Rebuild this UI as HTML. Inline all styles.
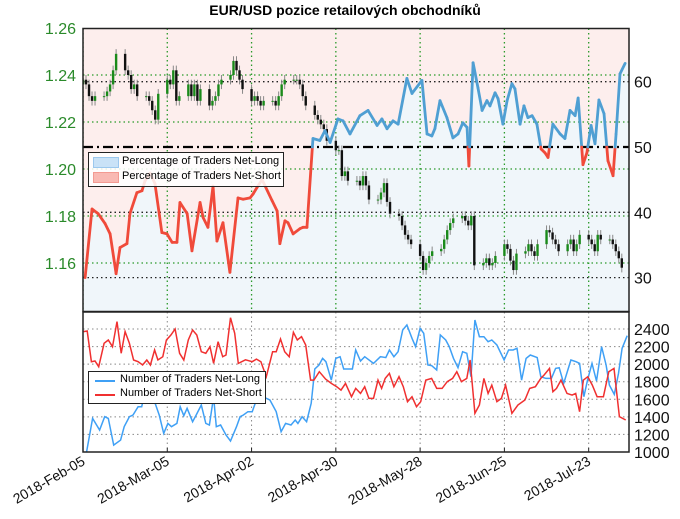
<!DOCTYPE html>
<html><head><meta charset="utf-8">
<style>
body{margin:0;background:#fff;position:relative;}
svg{display:block;font-family:"Liberation Sans","DejaVu Sans",sans-serif;}
</style></head>
<body>
<svg id="chart" width="680" height="519" viewBox="0 0 680 519" xmlns="http://www.w3.org/2000/svg">
<text x="345" y="15" text-anchor="middle" font-weight="bold" font-size="14">EUR/USD pozice retailových obchodníků</text>
<g id="topg"></g>
<g id="botg"></g>
</svg>
<script>
// ---------- data ----------
const dateLabels = ["2018-Feb-05","2018-Mar-05","2018-Apr-02","2018-Apr-30","2018-May-28","2018-Jun-25","2018-Jul-23"];
const dateTickDays = [0,28,56,84,112,140,168];
const priceTicks = [1.16,1.18,1.20,1.22,1.24,1.26];
const pctTicks = [30,40,50,60];
const countTicks = [1000,1200,1400,1600,1800,2000,2200,2400];
const closes = [
1.238,1.236,1.231,1.229,1.231, 1.231,1.233,1.236,1.242,1.249, 1.242,1.240,1.234,1.236,1.231,
1.231,1.229,1.225,1.221,1.232, 1.238,1.236,1.242,1.229,1.231, 1.236,1.231,1.236,1.229,1.234,
1.227,1.229,1.231,1.236,1.238, 1.240,1.246,1.242,1.238,1.234, 1.229,1.231,1.229,1.227,1.229,
1.229,1.227,1.231,1.236,1.238, 1.238,1.238,1.236,1.231,1.227, 1.223,1.221,1.219,1.217,1.212,
1.208,1.208,1.197,1.199,1.195, 1.195,1.193,1.197,1.193,1.187, 1.187,1.190,1.194,1.186,1.181,
1.180,1.176,1.172,1.170,1.168, 1.163,1.157,1.160,1.163,1.165, 1.166,1.170,1.174,1.177,1.179,
1.180,1.178,1.176,1.180,1.159, 1.160,1.162,1.159,1.160,1.163, 1.168,1.166,1.161,1.157,1.164,
1.165,1.168,1.165,1.163,1.168, 1.174,1.173,1.170,1.168,1.165, 1.168,1.170,1.165,1.168,1.172,
1.170,1.168,1.165,1.172,1.170, 1.170,1.168,1.165,1.162,1.158];
const pctDays = [0.7,3,5,7.3,9,11,12.3,14.6,15.6,17.9,19.6,20.6,22.3,23.9,26.2,27.9,29.6,31.2,32.2,34.6,36.2,38.9,39.9,41.5,43.2,44.5,46.5,48.8,51.5,53.2,55.5,56.5,57.8,59.5,62.8,64.5,65.4,67.1,68.1,69.8,72.1,73.1,74.4,76.4,78.7,80.4,82.1,84.7,86.4,88.7,92,94.7,97.7,99.3,101,103,104.7,107.6,109.3,112.6,114.3,115.9,116.9,118.6,120.9,122.9,124.6,126.2,127.6,128.2,129.6,131.2,132.6,134.2,135.2,136.9,137.9,139.5,140.9,142.5,143.5,145.2,146.5,147.8,149.2,150.8,152.2,153.5,154.5,156.1,158.5,160.1,161.8,163.5,164.5,166.1,167.4,168.8,170.1,171.4,173.1,174.4,176.1,177.1,178.4,180.1];
const pctLong = [30,40.5,39.8,38.3,36.7,30.6,34.6,35.2,39.8,43,43.3,44.8,46,44.4,36.9,36.7,35.4,35.4,41.5,39.8,34.1,41.5,39.2,37.7,44,35.6,38.4,30.8,42.2,42,42.2,42.8,43.8,45,41.8,40.2,35.2,38.7,38.4,36.7,37.5,37.7,37.7,51.3,51,52.5,50.7,54.3,54,52,54.8,55.6,53.3,54.3,52.8,54,53.5,60.5,58.2,60.2,52,51.7,52.8,57.1,54.5,51.4,52,53.7,53,47.1,62.9,59.1,55.6,57.1,56.3,58.3,57.4,53.5,57.1,59.7,58.9,53.5,56.3,54.5,54.8,53.5,49.7,49.1,48.4,53.5,52,51.3,55.6,54.8,57.5,47.3,49.1,53.3,50.5,57.2,55.1,47.9,45.6,52,61.2,62.8];
const longDays = [1.2,3.2,5.5,7.2,8.4,10.2,12.5,13.7,15.4,16.6,18.3,19.5,20.7,23,25.3,26.8,28.2,29.4,31.2,32.3,33.5,34.6,36.4,37.6,39.3,40.8,42,43.4,44.3,45.7,47.5,49,51,52.2,53.3,54.8,56.2,57.4,59.7,62.1,64.2,65.8,67.3,69.1,70.5,71.4,72.8,74.3,75.8,77,78.4,79.6,80.7,82.5,84,85.4,86.6,89.5,90.6,92.2,93.6,96.5,98.8,100.6,101.8,103.3,104.7,106.2,107.6,109.3,110.5,112,113.2,114.6,115.8,117.5,118.7,120.5,121.7,123.1,124.6,126.1,127.5,128.9,130.2,131.7,133.2,134.6,135.8,137.5,139.9,141.4,142.9,144.2,145.7,147.2,148.6,150.9,152.1,153.8,155.6,157,158.2,159.7,162.1,163.8,165,166.4,167.6,169.1,170.6,172.3,173.8,174.9,176.5,177.9,179.1,180.8];
const longCount = [1003,1383,1250,1402,1383,1079,1136,1288,1402,1421,1516,1516,1705,1650,1421,1212,1326,1288,1326,1516,1413,1497,1345,1421,1535,1326,1307,1630,1288,1307,1193,1125,1288,1402,1421,1459,1459,1573,1630,1592,1459,1231,1326,1307,1364,1326,1402,1345,1554,1945,1990,2066,2028,1819,2066,2085,1945,1945,2161,2036,2085,2009,2085,2074,2161,2085,2142,2389,2446,2294,2199,2408,2351,1990,1983,1933,2332,2275,2199,2066,1960,2142,2123,1857,2502,2313,2313,2256,2275,2218,2047,2161,2161,2180,1819,2066,2104,2074,1857,1838,1838,1952,1960,1781,2047,2028,2009,1630,1819,2009,1808,2199,1990,1762,1656,1895,2180,2324];
const shortDays = [0.2,1.4,2.8,4,5.2,7,8.4,9.8,11.3,12.7,14,15.4,16.8,18.3,19.8,21.2,22.4,23.8,24.9,26.5,27.7,29.2,30.6,32.1,33.5,35,36.4,37.8,39.3,40.8,42.2,43.4,44.9,46.4,47.5,49,50.4,51.6,54,56.2,57.6,59.1,60.9,63,64.2,65.6,67,68.5,69.9,71.2,72.6,74,75.6,76.7,78.5,80.6,82.5,84.3,85.7,87.2,89.2,90.6,92.2,93.6,95,96.5,98,99.2,100.4,101.8,103.3,105,106.4,107.8,109.3,110.8,112.2,113.9,115.8,117.5,119.3,121,122.8,124.2,125.7,127.5,128.6,130.2,131.7,133.2,134.6,135.8,137.5,139,140.4,142.5,144.5,146.8,148.4,150.3,152.1,153.2,155,156.1,157.3,158.8,160.8,162.5,163.7,165,166.2,167.7,169.2,170.8,172.9,174.7,176.4,178.2,180.3];
const shortCount = [2370,2377,2028,2036,1971,2237,2275,2199,2484,2123,2370,2237,2047,2028,1990,2047,1990,2161,2047,2085,2275,2332,2400,2123,2047,2275,2389,2332,2142,2123,2199,2009,2256,2085,2104,2529,2351,2009,2050,2028,2058,2028,1857,2142,2142,2286,2142,2085,2362,2275,2313,2218,1819,1819,1914,1830,1781,1743,1705,1781,1630,1724,1667,1743,1610,1610,1819,1724,1838,1895,1743,1857,1743,1573,1630,1516,1573,1819,1838,1724,1724,1800,1838,1914,1800,1838,2047,1440,1535,1838,1667,1762,1573,1610,1762,1440,1535,1592,1724,1743,1838,1876,1952,1686,1724,1819,1667,1648,1667,1459,1819,1857,1762,1630,1630,1914,1952,1402,1364];

// ---------- scales ----------
const X0=83, X1=629, PX_PER_DAY=3.01;
const T0=28.5, T1=311.5, B0=312, B1=452;
const xDay = d => X0 + d*PX_PER_DAY;
const yPrice = p => 75 + (1.24-p)/0.02*47;
const yPct = v => 147 + (50-v)*6.53;
const yCnt = v => 452 - (v-1000)/200*17.57;
const NS='http://www.w3.org/2000/svg';
function mk(parent,tag,attrs){const e=document.createElementNS(NS,tag);for(const k in attrs)e.setAttribute(k,attrs[k]);parent.appendChild(e);return e;}
const topG=document.getElementById('topg'), botG=document.getElementById('botg');

const defs=mk(topG,'defs',{});
const cp=mk(defs,'clipPath',{id:'ctop'});mk(cp,'rect',{x:X0,y:T0,width:X1-X0,height:T1-T0});
const cp2=mk(defs,'clipPath',{id:'cbot'});mk(cp2,'rect',{x:X0,y:B0,width:X1-X0,height:B1-B0});
const gt=mk(topG,'g',{'clip-path':'url(#ctop)'});
const gb=mk(botG,'g',{'clip-path':'url(#cbot)'});

const nP=Math.min(pctDays.length,pctLong.length);
let pts=[];
for(let i=0;i<nP;i++) pts.push(xDay(pctDays[i]).toFixed(1)+','+yPct(pctLong[i]).toFixed(1));
const yFirst=yPct(pctLong[0]), yLast=yPct(pctLong[nP-1]);
let pinkD='M'+X0+','+T0+' L'+X0+','+yFirst+' L'+pts.join(' L')+' L'+X1+','+yLast+' L'+X1+','+T0+'Z';
let blueD='M'+X0+','+T1+' L'+X0+','+yFirst+' L'+pts.join(' L')+' L'+X1+','+yLast+' L'+X1+','+T1+'Z';
const pf=mk(gt,'path',{d:pinkD,fill:'#fdeeed'});


const bf=mk(gt,'path',{d:blueD,fill:'#f0f6fa'});



dateTickDays.forEach(d=>{mk(gt,'line',{x1:xDay(d),x2:xDay(d),y1:T0,y2:T1,stroke:'#2a9a2a','stroke-width':1.3,'stroke-dasharray':'1.5,3'});});
priceTicks.forEach(p=>{mk(gt,'line',{x1:X0,x2:X1,y1:yPrice(p),y2:yPrice(p),stroke:'#2a9a2a','stroke-width':1.3,'stroke-dasharray':'1.5,3'});});
pctTicks.forEach(v=>{ if(v===50){mk(gt,'line',{x1:X0,x2:X1,y1:yPct(v),y2:yPct(v),stroke:'#000','stroke-width':2.2,'stroke-dasharray':'10,4,2,4'});}
 else mk(gt,'line',{x1:X0,x2:X1,y1:yPct(v),y2:yPct(v),stroke:'#222','stroke-width':1.3,'stroke-dasharray':'1.5,3'});});

closes.forEach((c,i)=>{
 const day=Math.floor(i/5)*7+i%5;
 const o = i===0?c-0.002:closes[i-1];
 const hi=Math.max(o,c)+0.002, lo=Math.min(o,c)-0.002;
 const x=xDay(day);
 const up=c>=o;
 const w=mk(gt,'line',{x1:x,x2:x,y1:yPrice(hi),y2:yPrice(lo),stroke:'#888','stroke-width':1});
 
 
 const r=mk(gt,'rect',{x:x-1.2,y:yPrice(Math.max(o,c)),width:2.4,height:Math.max(1,Math.abs(yPrice(o)-yPrice(c))),fill:up?'#1a8a1a':'#111'});
 
 
});

for(let i=1;i<nP;i++){
 const a=pctLong[i-1], b=pctLong[i];
 const xa=xDay(pctDays[i-1]), xb=xDay(pctDays[i]);
 const segs=[];
 if((a-50)*(b-50)<0){const t=(50-a)/(b-a);const xm=xa+(xb-xa)*t;segs.push([xa,a,xm,50,a>=50]);segs.push([xm,50,xb,b,b>=50]);}
 else segs.push([xa,a,xb,b,(a+b)/2>=50]);
 segs.forEach(s=>{
  const l=mk(gt,'line',{x1:s[0],y1:yPct(s[1]),x2:s[2],y2:yPct(s[3]),stroke:s[4]?'#4f9fd3':'#f04a3a','stroke-width':2.8,'stroke-linecap':'round'});
  
  
 });
}

mk(topG,'rect',{x:X0,y:T0,width:X1-X0,height:T1-T0,fill:'none',stroke:'#222','stroke-width':1.5});
priceTicks.forEach(p=>{const t=mk(topG,'text',{x:76,y:yPrice(p)+6,'text-anchor':'end','font-size':16,fill:'#2a8a2a'});t.textContent=p.toFixed(2);
 
 });
pctTicks.forEach(v=>{const t=mk(topG,'text',{x:634,y:yPct(v)+6,'font-size':16,fill:'#111'});t.textContent=v;
 
 });

dateTickDays.forEach(d=>{mk(gb,'line',{x1:xDay(d),x2:xDay(d),y1:B0,y2:B1,stroke:'#888','stroke-width':1,'stroke-dasharray':'1.5,3'});});
countTicks.forEach(v=>{mk(gb,'line',{x1:X0,x2:X1,y1:yCnt(v),y2:yCnt(v),stroke:'#888','stroke-width':1,'stroke-dasharray':'1.5,3'});});
function poly(days,vals,color,name){
 const n=Math.min(days.length,vals.length);
 const arr=[];
 for(let i=0;i<n;i++) arr.push(xDay(days[i]).toFixed(1)+','+yCnt(vals[i]).toFixed(1));
 const p=mk(gb,'polyline',{points:arr.join(' '),fill:'none',stroke:color,'stroke-width':1.5});
 
 
}
poly(longDays,longCount,'#3fa0f5','net-long-count-line');
poly(shortDays,shortCount,'#f03030','net-short-count-line');
mk(botG,'rect',{x:X0,y:B0,width:X1-X0,height:B1-B0,fill:'none',stroke:'#222','stroke-width':1.5});
dateTickDays.forEach(d=>{mk(botG,'line',{x1:xDay(d),x2:xDay(d),y1:B1,y2:B1-4,stroke:'#222'});});
countTicks.forEach(v=>{const t=mk(botG,'text',{x:634,y:yCnt(v)+6,'font-size':16,fill:'#111'});t.textContent=v;
 
 });
dateLabels.forEach((s,i)=>{const x=xDay(dateTickDays[i]);const t=mk(botG,'text',{x:x+3,y:464,'text-anchor':'end','font-size':14,fill:'#111',transform:'rotate(-30 '+(x+3)+' 464)'});t.textContent=s;
 
 });
</script>
<div style="position:absolute;left:88px;top:152px;width:194px;height:33px;border:1.5px solid #222;background:rgba(255,255,255,0.85);font-family:'Liberation Sans',sans-serif;font-size:11px;">
 <div style="position:absolute;left:4px;top:4px;width:24px;height:9px;background:#c9e2f7;border:1px solid #9cc8ee;"></div>
 <div style="position:absolute;left:33px;top:2px;">Percentage of Traders Net-Long</div>
 <div style="position:absolute;left:4px;top:19px;width:24px;height:9px;background:#f9b9b3;border:1px solid #f39a92;"></div>
 <div style="position:absolute;left:33px;top:17px;">Percentage of Traders Net-Short</div>
</div>
<div style="position:absolute;left:88px;top:371px;width:176px;height:31px;border:1.5px solid #222;background:#fff;font-family:'Liberation Sans',sans-serif;font-size:11px;">
 <div style="position:absolute;left:6px;top:8px;width:20px;height:1.5px;background:#3fa0f5;"></div>
 <div style="position:absolute;left:31px;top:1px;">Number of Traders Net-Long</div>
 <div style="position:absolute;left:6px;top:22px;width:20px;height:1.5px;background:#f03030;"></div>
 <div style="position:absolute;left:31px;top:15px;">Number of Traders Net-Short</div>
</div>
</body></html>
